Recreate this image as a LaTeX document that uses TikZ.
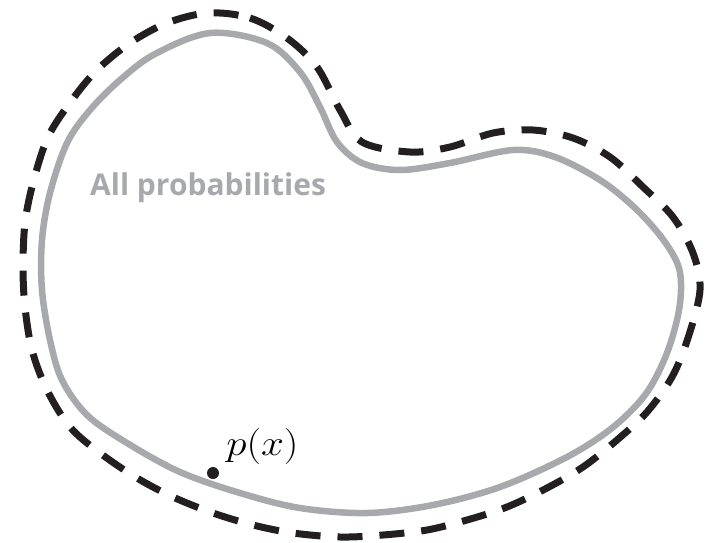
\documentclass[tikz,border=0pt]{standalone}
\usepackage{fontspec}
\newfontfamily\labelfont{Open Sans}
\definecolor{curvegray}{RGB}{167,169,172}
\definecolor{inkblack}{RGB}{35,31,32}
\begin{document}
\begin{tikzpicture}[x=1pt,y=-1pt,
  graycurve/.style={draw=curvegray,line width=6.5pt},
  dashcurve/.style={draw=inkblack,line width=7pt,dash pattern=on 25pt off 17pt},
  labeltext/.style={text=curvegray,font=\labelfont\bfseries\fontsize{30}{30}\selectfont,inner sep=0pt,anchor=base west},
  mathtext/.style={font=\fontsize{24.88}{24.88}\selectfont,inner sep=0pt,anchor=base west,scale=1.45,xscale=1.14}]
\useasboundingbox (0,0) rectangle (705,542);
\draw[graycurve] plot[smooth cycle,tension=0.55] coordinates {
 (210,33) (267,43) (300,72) (320,107) (337,142) (362,163) (400,170) (450,163)
 (513,150) (555,157) (600,180) (635,208) (662,238) (678,265) (681,290) (677,320)
 (665,358) (645,395) (612,428) (567,457) (500,487) (433,505) (367,513) (300,508)
 (240,493) (180,472) (127,443) (87,415) (62,380) (50,340) (42,290) (42,240)
 (50,193) (67,143) (90,110) (120,80) (155,54)};
\draw[dashcurve] plot[smooth cycle,tension=0.55] coordinates {
 (208,13) (250,18) (287,38) (317,67) (340,110) (362,142) (410,152) (450,147)
 (493,133) (533,130) (573,138) (610,157) (643,187) (673,217) (693,253) (700,290)
 (688,338) (672,377) (647,412) (617,440) (583,467) (547,488) (507,507) (467,520)
 (427,530) (383,535) (340,537) (293,533) (253,525) (213,513) (173,497) (137,478)
 (100,453) (70,427) (47,390) (32,350) (25,307) (23,267) (25,223) (33,183)
 (48,137) (72,100) (97,70) (130,43) (167,23)};
\node[labeltext] (all) at (90,195) {All probabilities};
\fill[inkblack] (213,473) circle (6pt) coordinate (pt);
\node[mathtext] (px) at (226,455) {$p(x)$};
\end{tikzpicture}
\end{document}
